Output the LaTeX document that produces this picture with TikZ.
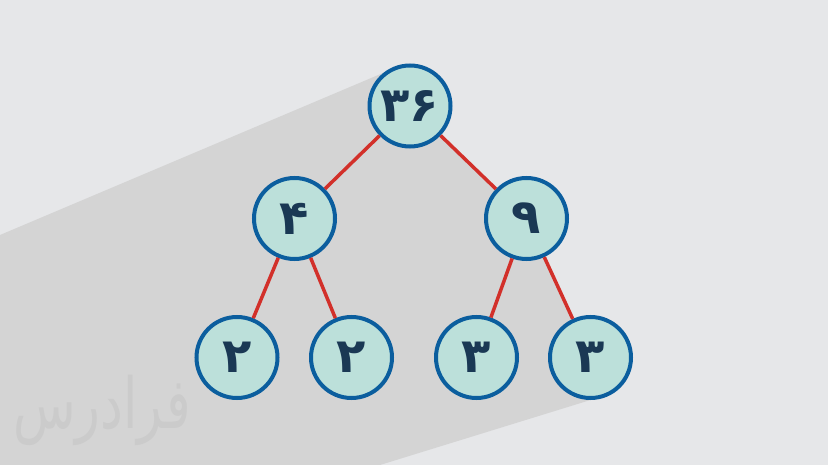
\documentclass[tikz,border=0pt]{standalone}
\usepackage{fontspec}
\TeXXeTstate=1
\newfontfamily\arabicfont[Script=Arabic]{DejaVu Sans}
\definecolor{bg}{HTML}{E6E7E9}
\definecolor{shadowgray}{HTML}{D4D4D4}
\definecolor{nodefill}{HTML}{BCE0DA}
\definecolor{nodeborder}{HTML}{0B5E9E}
\definecolor{edgered}{HTML}{D2302A}
\definecolor{digit}{HTML}{1A3854}
\definecolor{markgray}{HTML}{CBCBCB}
\begin{document}
\begin{tikzpicture}[x=1pt,y=-1pt,
  treenode/.style={circle, draw=nodeborder, line width=4pt, fill=nodefill,
    minimum size=81pt, inner sep=0pt, text=digit,
    font=\arabicfont\bfseries\fontsize{48}{48}\selectfont},
  treeedge/.style={draw=edgered, line width=3.5pt}]
\fill[bg] (0,0) rectangle (828,465);
\useasboundingbox (0,0) rectangle (828,465);
% long shadow
\fill[shadowgray] (0,235) -- (383,73) -- (410,106) -- (526.5,218.5) -- (590.5,357.5)
  -- (590.5,400) -- (380,465) -- (0,465) -- cycle;
% watermark
\node[text=markgray, font=\arabicfont\fontsize{54}{54}\selectfont, inner sep=0pt]
  (wm) at (102,410) {\scalebox{0.95}[1.3]{\beginR فرادرس\endR}};
% nodes
\node[treenode] (r) at (410,106) {۳۶};
\node[treenode] (a) at (294.5,218.5) {۴};
\node[treenode] (b) at (526.5,218.5) {۹};
\node[treenode] (aa) at (237,357.5) {۲};
\node[treenode] (ab) at (351.5,357.5) {۲};
\node[treenode] (ba) at (476.5,357.5) {۳};
\node[treenode] (bb) at (590.5,357.5) {۳};
% edges
\draw[treeedge] (r) -- (a);
\draw[treeedge] (r) -- (b);
\draw[treeedge] (a) -- (aa);
\draw[treeedge] (a) -- (ab);
\draw[treeedge] (b) -- (ba);
\draw[treeedge] (b) -- (bb);
\end{tikzpicture}
\end{document}
